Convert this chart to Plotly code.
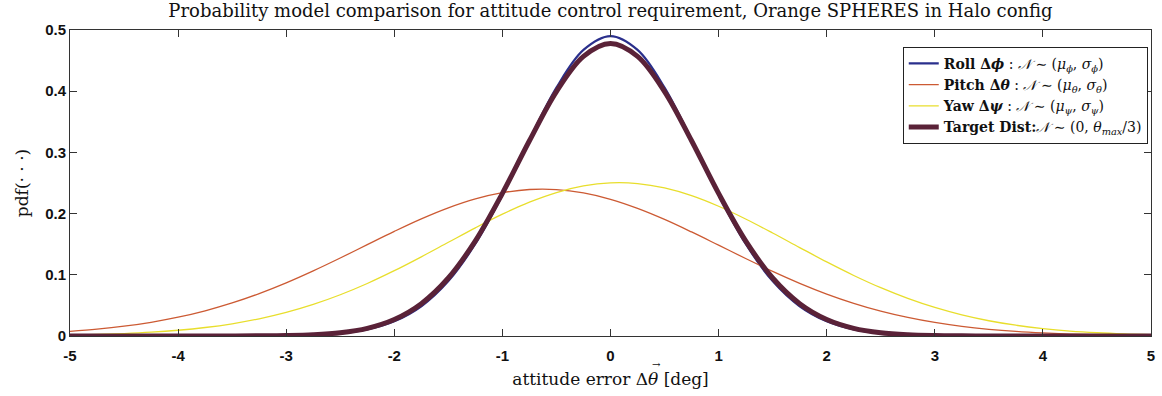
import plotly.graph_objects as go

# attitude error grid [deg]
x_deg = [-5.0, -4.75, -4.5, -4.25, -4.0, -3.75, -3.5, -3.25, -3.0, -2.75,
         -2.5, -2.25, -2.0, -1.75, -1.5, -1.25, -1.0, -0.75, -0.5, -0.25,
         0.0, 0.25, 0.5, 0.75, 1.0, 1.25, 1.5, 1.75, 2.0, 2.25,
         2.5, 2.75, 3.0, 3.25, 3.5, 3.75, 4.0, 4.25, 4.5, 4.75, 5.0]

# fitted pdf values per axis
roll_pdf = [0.0, 0.0, 0.0, 0.0, 0.0, 0.00001, 0.00005, 0.00017, 0.00055, 0.00163,
            0.00439, 0.01075, 0.0240, 0.0486, 0.0897, 0.1507, 0.2304, 0.3205, 0.4058, 0.4674,
            0.490, 0.4674, 0.4058, 0.3205, 0.2304, 0.1507, 0.0897, 0.0486, 0.0240, 0.01075,
            0.00439, 0.00163, 0.00055, 0.00017, 0.00005, 0.00001, 0.0, 0.0, 0.0, 0.0, 0.0]

pitch_pdf = [0.00757, 0.01112, 0.01596, 0.02240, 0.03072, 0.04121, 0.05404, 0.06928, 0.08683, 0.1064,
             0.1274, 0.1493, 0.1709, 0.1913, 0.2093, 0.2239, 0.2341, 0.2394, 0.2393, 0.2338,
             0.2234, 0.2086, 0.1905, 0.1700, 0.1484, 0.1266, 0.1056, 0.0861, 0.0686, 0.0535,
             0.0407, 0.0304, 0.0221, 0.0157, 0.01095, 0.00745, 0.00496, 0.00322, 0.00205, 0.00127, 0.00077]

yaw_pdf = [0.00154, 0.00251, 0.00400, 0.00620, 0.00939, 0.01387, 0.01999, 0.02810, 0.03855, 0.0516,
           0.0674, 0.0858, 0.1067, 0.1294, 0.1531, 0.1767, 0.1990, 0.2187, 0.2344, 0.2452,
           0.2502, 0.2491, 0.2419, 0.2293, 0.2120, 0.1912, 0.1683, 0.1445, 0.1210, 0.0989,
           0.0789, 0.0614, 0.0466, 0.0345, 0.0249, 0.0176, 0.0121, 0.00811, 0.00531, 0.00339, 0.00211]

target_pdf = [0.0, 0.0, 0.0, 0.0, 0.0, 0.00002, 0.00007, 0.00024, 0.00074, 0.00208,
              0.00535, 0.01256, 0.0270, 0.0529, 0.0948, 0.1555, 0.2330, 0.3190, 0.3994, 0.4570,
              0.478, 0.4570, 0.3994, 0.3190, 0.2330, 0.1555, 0.0948, 0.0529, 0.0270, 0.01256,
              0.00535, 0.00208, 0.00074, 0.00024, 0.00007, 0.00002, 0.0, 0.0, 0.0, 0.0, 0.0]

x_ticks = [-5, -4, -3, -2, -1, 0, 1, 2, 3, 4, 5]
x_tick_text = ["-5", "-4", "-3", "-2", "-1", "0", "1", "2", "3", "4", "5"]
y_ticks = [0, 0.1, 0.2, 0.3, 0.4, 0.5]
y_tick_text = ["0", "0.1", "0.2", "0.3", "0.4", "0.5"]

series = [
    ("<b>Roll Δ<i>ϕ</i></b> : <i>𝒩</i> ∼ (<i>μ</i><sub><i>ϕ</i></sub>, <i>σ</i><sub><i>ϕ</i></sub>)",
     roll_pdf, "#2a2f8c", 2.2),
    ("<b>Pitch Δ<i>θ</i></b> : <i>𝒩</i> ∼ (<i>μ</i><sub><i>θ</i></sub>, <i>σ</i><sub><i>θ</i></sub>)",
     pitch_pdf, "#cc5a33", 1.3),
    ("<b>Yaw Δ<i>ψ</i></b> : <i>𝒩</i> ∼ (<i>μ</i><sub><i>ψ</i></sub>, <i>σ</i><sub><i>ψ</i></sub>)",
     yaw_pdf, "#e8de2c", 1.3),
    ("<b>Target Dist:</b><i>𝒩</i> ∼ (0, <i>θ</i><sub><i>max</i></sub>/3)",
     target_pdf, "#5a2238", 5.0),
]

serif = "DejaVu Serif"
sans = "Liberation Sans"

fig = go.Figure()
for name, ys, color, width in series:
    fig.add_trace(go.Scatter(
        x=x_deg, y=ys, name=name, mode="lines",
        line=dict(color=color, width=width, shape="spline", smoothing=1.0),
    ))

axis_common = dict(
    showline=True, linecolor="#333333", linewidth=1, mirror="ticks",
    ticks="inside", ticklen=7, tickcolor="#333333", tickwidth=1,
    showgrid=False, zeroline=False,
    tickfont=dict(family=sans, size=15, color="#111111", weight="bold"),
)

fig.update_layout(
    width=1162, height=396,
    margin=dict(l=70, r=7, t=30, b=60),
    paper_bgcolor="white", plot_bgcolor="white",
    title=dict(
        text="Probability model comparison for attitude control requirement, Orange SPHERES in Halo config",
        x=0.5, xref="paper", xanchor="center", y=0.972, yanchor="middle",
        font=dict(family=serif, size=18, color="#111111"),
    ),
    xaxis=dict(
        range=[-5, 5], tickvals=x_ticks, ticktext=x_tick_text,
        ticklabelstandoff=6,
        title=dict(text="attitude error Δ<i>θ</i> [deg]", standoff=10,
                   font=dict(family=serif, size=17, color="#111111")),
        **axis_common,
    ),
    yaxis=dict(
        range=[0, 0.5], tickvals=y_ticks, ticktext=y_tick_text,
        title=dict(text="pdf(· · ·)", standoff=12,
                   font=dict(family=serif, size=17, color="#111111")),
        **axis_common,
    ),
    legend=dict(
        x=0.997, y=0.945, xanchor="right", yanchor="top",
        bgcolor="white", bordercolor="#222222", borderwidth=1,
        font=dict(family=serif, size=14, color="#111111"),
        itemwidth=30, tracegroupgap=0,
    ),
    showlegend=True,
)

# vector arrow over the theta in the x-axis title
fig.add_annotation(
    text="→", xref="paper", yref="paper", x=0.543, y=-0.092,
    xanchor="center", yanchor="middle", showarrow=False,
    font=dict(family=serif, size=10, color="#111111"),
)

fig.write_html("out.html")
